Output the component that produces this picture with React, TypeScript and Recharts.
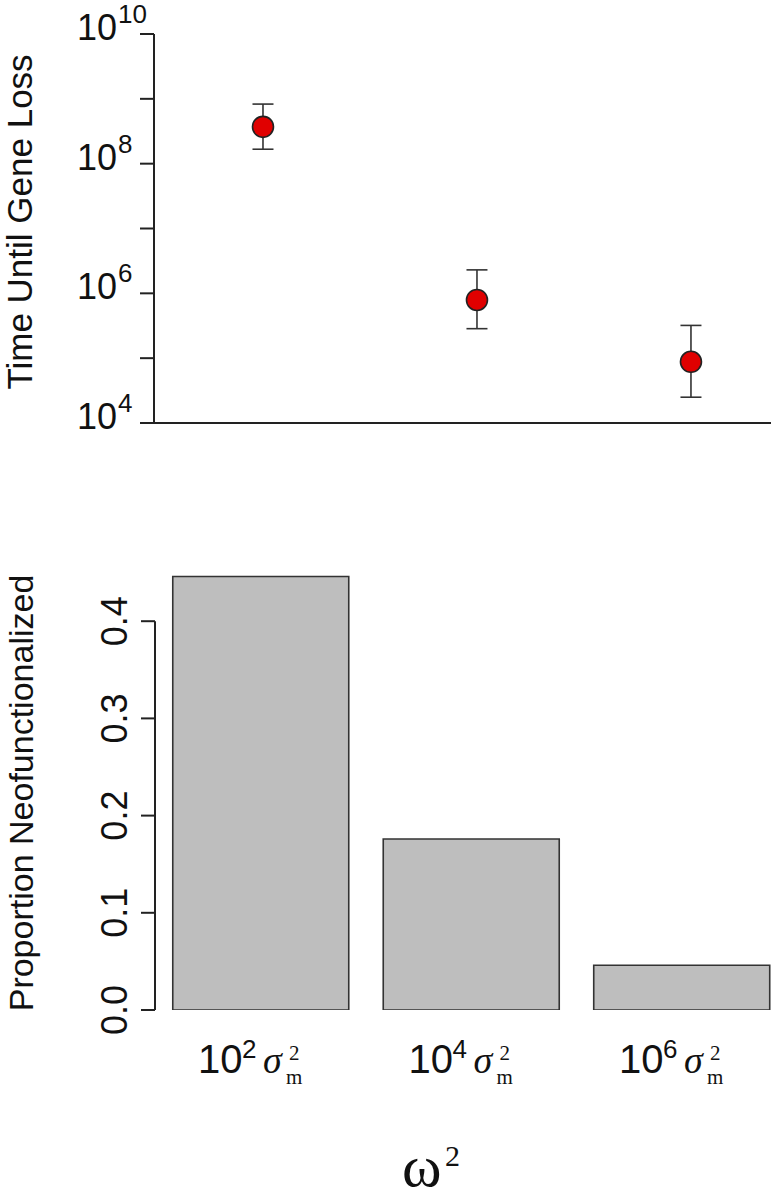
import React from "react";
import { ComposedChart, Scatter, ErrorBar, XAxis, YAxis, Bar, ReferenceLine } from "recharts";

// ---- data ----
const omegaExponents = ["2", "4", "6"]; // categories: 10^k * sigma_m^2
const timeMean = [3.7e8, 7.9e5, 8.8e4];
const timeLower = [1.67e8, 2.85e5, 2.5e4];
const timeUpper = [8.3e8, 2.3e6, 3.2e5];
const propNeofunctionalized = [0.446, 0.176, 0.046];
const timeTicks = [1e4, 1e5, 1e6, 1e7, 1e8, 1e9, 1e10];
const propTicks = [0, 0.1, 0.2, 0.3, 0.4];
const topYLabel = "Time Until Gene Loss";
const bottomYLabel = "Proportion Neofunctionalized";

const SANS = "'Liberation Sans', Arial, Helvetica, sans-serif";
const SERIF = "'Liberation Serif', 'Times New Roman', serif";
const INK = "#111";
const AXIS = "#222";

const topData = omegaExponents.map((_, i) => ({
  pos: i + 1,
  t: timeMean[i],
  err: [timeMean[i] - timeLower[i], timeUpper[i] - timeMean[i]],
}));
const bottomData = omegaExponents.map((_, i) => ({ pos: i + 1, p: propNeofunctionalized[i] }));

const TOP_X_DOMAIN: [number, number] = [0.4907, 3.374];
const BOT_X_DOMAIN: [number, number] = [0.4964, 3.442];

const TimeTick = (props: any) => {
  const { x, y, payload } = props;
  const exp = Math.round(Math.log10(payload.value));
  if (exp % 2 !== 0) return null;
  return (
    <text fontFamily={SANS} fill={INK}>
      <tspan x={x - 23} y={y + 6} textAnchor="end" fontSize={36}>
        10
      </tspan>
      <tspan x={x - 22} y={y - 11} textAnchor="start" fontSize={26}>
        {exp}
      </tspan>
    </text>
  );
};

const PropTick = (props: any) => {
  const { x, y, payload } = props;
  const tx = x - 14;
  return (
    <text
      x={tx}
      y={y}
      transform={`rotate(-90 ${tx} ${y})`}
      textAnchor="middle"
      fontSize={36}
      fontFamily={SANS}
      fill={INK}
    >
      {Number(payload.value).toFixed(1)}
    </text>
  );
};

const OmegaTick = (props: any) => {
  const { x, y, payload } = props;
  const i = Math.round(payload.value) - 1;
  if (i < 0 || i >= omegaExponents.length) return null;
  const base = y + 63;
  const c = x;
  return (
    <text fill={INK} fontFamily={SANS}>
      <tspan x={c - 63} y={base} fontSize={40}>10</tspan>
      <tspan x={c - 19} y={base - 15} fontSize={26}>{omegaExponents[i]}</tspan>
      <tspan x={c + 2} y={base} fontSize={38} fontFamily={SERIF} fontStyle="italic">σ</tspan>
      <tspan x={c + 28} y={base - 13} fontSize={21} fontFamily={SERIF}>2</tspan>
      <tspan x={c + 25} y={base + 11} fontSize={21} fontFamily={SERIF}>m</tspan>
    </text>
  );
};

const TopYLabel = () => (
  <text
    x={32}
    y={222}
    transform="rotate(-90 32 222)"
    textAnchor="middle"
    fontSize={35}
    fontFamily={SANS}
    fill={INK}
  >
    {topYLabel}
  </text>
);

const BottomYLabel = () => (
  <text
    x={33}
    y={333}
    transform="rotate(-90 33 333)"
    textAnchor="middle"
    fontSize={34}
    fontFamily={SANS}
    fill={INK}
  >
    {bottomYLabel}
  </text>
);

const OmegaLabel = () => (
  <text fill={INK} fontFamily={SERIF}>
    <tspan x={402} y={726} fontSize={60}>ω</tspan>
    <tspan x={445} y={706} fontSize={30}>2</tspan>
  </text>
);

const Dot = (props: any) => {
  const { cx, cy } = props;
  if (cx == null || cy == null) return null;
  return <circle cx={cx} cy={cy} r={10.5} fill="#e00000" stroke="#222" strokeWidth={1.6} />;
};

export default function App() {
  return (
    <div
      style={{
        position: "absolute",
        left: 0,
        top: 0,
        width: 775,
        height: 1198,
        background: "#ffffff",
        fontFamily: SANS,
      }}
    >
      <ComposedChart
        width={775}
        height={460}
        data={topData}
        margin={{ top: 34, right: 4, bottom: 0, left: 0 }}
      >
        <XAxis
          type="number"
          dataKey="pos"
          domain={TOP_X_DOMAIN}
          allowDataOverflow
          height={37}
          tick={false}
          tickLine={false}
          axisLine={{ stroke: AXIS, strokeWidth: 2 }}
        />
        <YAxis
          type="number"
          scale="log"
          domain={[1e4, 1e10]}
          allowDataOverflow
          ticks={timeTicks}
          interval={0}
          width={154}
          tickSize={14}
          tickMargin={0}
          tickLine={{ stroke: AXIS, strokeWidth: 2 }}
          axisLine={{ stroke: AXIS, strokeWidth: 2 }}
          tick={<TimeTick />}
          label={{ content: () => <TopYLabel /> }}
        />
        <Scatter dataKey="t" shape={<Dot />} isAnimationActive={false}>
          <ErrorBar dataKey="err" direction="y" width={10.5} stroke="#333" strokeWidth={1.6} />
        </Scatter>
      </ComposedChart>
      <ComposedChart
        width={775}
        height={738}
        data={bottomData}
        margin={{ top: 64, right: 0, bottom: 0, left: 0 }}
      >
        <XAxis
          type="number"
          dataKey="pos"
          domain={BOT_X_DOMAIN}
          allowDataOverflow
          ticks={[1, 2, 3]}
          interval={0}
          height={188}
          tickSize={0}
          tickMargin={0}
          tickLine={false}
          axisLine={false}
          tick={<OmegaTick />}
          label={{ content: () => <OmegaLabel /> }}
        />
        <YAxis
          type="number"
          domain={[0, 0.5]}
          allowDataOverflow
          ticks={propTicks}
          interval={0}
          width={155}
          tickSize={14}
          tickMargin={0}
          tickLine={{ stroke: AXIS, strokeWidth: 2 }}
          axisLine={false}
          tick={<PropTick />}
          label={{ content: () => <BottomYLabel /> }}
        />
        <ReferenceLine
          segment={[
            { x: BOT_X_DOMAIN[0], y: 0 },
            { x: BOT_X_DOMAIN[0], y: 0.4 },
          ]}
          stroke={AXIS}
          strokeWidth={2}
          ifOverflow="visible"
        />
        <Bar dataKey="p" barSize={176} fill="#bebebe" stroke="#333" strokeWidth={1.6} isAnimationActive={false} />
      </ComposedChart>
    </div>
  );
}
